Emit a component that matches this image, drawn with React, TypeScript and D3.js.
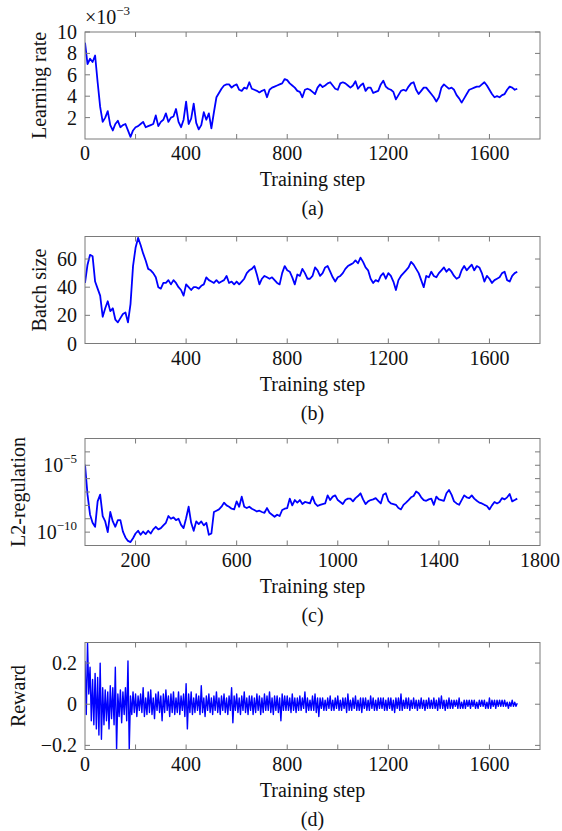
import React from 'react';
import * as d3 from 'd3';

// sampled training steps (every 10 steps for a-c, every 5 for reward)
const coarseSteps = d3.range(0, 1711, 10);
const rewardSteps = d3.range(0, 1711, 5);

// learning rate, in units of 1e-3
const learningRate = [
  9.0, 7.0, 7.5, 7.2, 7.8, 5.3, 3.0, 1.6, 2.0, 2.6,
  1.3, 0.8, 1.4, 1.7, 1.1, 1.3, 1.4, 0.8, 0.2, 0.8,
  1.1, 1.2, 1.4, 1.6, 1.1, 1.2, 1.3, 1.4, 2.2, 1.2,
  1.6, 1.8, 2.4, 1.6, 2.0, 2.1, 2.8, 1.6, 1.1, 1.8,
  3.5, 1.4, 1.9, 3.3, 1.5, 0.9, 1.3, 2.5, 1.8, 2.4,
  1.0, 2.5, 3.9, 4.3, 4.7, 5.0, 5.1, 5.1, 4.8, 5.0,
  5.1, 4.6, 4.5, 4.8, 4.7, 5.3, 4.7, 4.6, 4.5, 4.35,
  4.5, 4.6, 3.9, 4.6, 4.8, 4.9, 5.0, 5.1, 5.2, 5.6,
  5.5, 5.2, 5.0, 4.8, 4.5, 4.4, 3.9, 4.6, 4.7, 4.6,
  4.4, 4.2, 4.8, 5.1, 4.85, 5.0, 5.2, 5.3, 5.0, 4.7,
  4.6, 5.2, 5.3, 5.2, 5.0, 4.8, 5.0, 5.4, 4.7, 5.0,
  5.2, 4.5, 4.8, 4.8, 4.3, 4.4, 4.5, 5.1, 5.45, 4.9,
  4.7, 4.6, 4.4, 3.7, 4.1, 4.5, 4.6, 4.5, 4.9, 5.2,
  5.3, 4.6, 4.2, 4.5, 4.8, 4.8, 4.5, 4.2, 3.9, 3.5,
  3.9, 4.8, 5.1, 4.9, 4.7, 4.8, 4.6, 4.1, 3.8, 3.4,
  3.8, 4.2, 4.6, 4.7, 4.8, 4.9, 4.9, 5.1, 5.3, 5.0,
  4.6, 4.2, 3.9, 4.0, 3.9, 4.1, 4.2, 4.6, 4.9, 4.8,
  4.6, 4.7,
];

const batchSize = [
  43, 56, 63, 62, 44, 39, 34, 19, 25, 30,
  23, 25, 17, 15, 18, 21, 22, 15, 28, 55,
  68, 75, 70, 64, 59, 53, 52, 50, 47, 40,
  39, 43, 43, 45, 42, 45, 43, 40, 38, 34,
  42, 40, 38, 40, 40, 39, 41, 42, 47, 45,
  44, 43, 45, 43, 44, 45, 48, 43, 44, 42,
  44, 42, 44, 46, 50, 52, 53, 55, 49, 42,
  46, 48, 47, 46, 47, 45, 43, 42, 50, 55,
  52, 51, 47, 42, 49, 48, 53, 50, 46, 46,
  48, 54, 52, 48, 50, 54, 55, 51, 47, 44,
  47, 48, 50, 53, 55, 56, 57, 59, 57, 61,
  58, 54, 52, 46, 43, 45, 44, 48, 50, 46,
  50, 48, 44, 38, 45, 48, 50, 52, 54, 58,
  56, 53, 50, 45, 40, 48, 47, 51, 48, 47,
  50, 52, 54, 51, 53, 51, 48, 46, 47, 52,
  55, 52, 54, 56, 52, 55, 54, 50, 44, 48,
  46, 43, 45, 46, 47, 50, 51, 45, 44, 48,
  50, 51,
];

const l2Regulation = [
  1.1e-5, 6.3e-8, 2.0e-9, 5.0e-10, 2.5e-10, 2.0e-8, 6.3e-8, 1.6e-9, 6.3e-10, 1e-10,
  3.2e-9, 6.3e-10, 2.5e-10, 7.9e-10, 7.9e-10, 1.1e-10, 4.0e-11, 2.2e-11, 1.8e-11, 3.5e-11,
  7.9e-11, 1.26e-10, 6.3e-11, 1.1e-10, 7.1e-11, 1.26e-10, 7.9e-11, 1.6e-10, 2.5e-10, 1.6e-10,
  2.0e-10, 3.2e-10, 5.0e-10, 1.6e-9, 1e-9, 1.26e-9, 7.9e-10, 1e-9, 3.5e-10, 2.0e-10,
  1.1e-9, 7.9e-9, 5.0e-10, 1.26e-10, 6.3e-10, 4.0e-10, 6.3e-10, 3.2e-10, 5.0e-10, 6.3e-11,
  7.9e-11, 3.2e-9, 4.0e-9, 5.0e-9, 7.9e-9, 1.6e-8, 1e-8, 7.9e-9, 5.6e-9, 5.0e-9,
  2.0e-8, 7.9e-9, 4.5e-8, 7.9e-9, 6.3e-9, 7.9e-9, 5.6e-9, 4.5e-9, 3.5e-9, 4.0e-9,
  3.2e-9, 2.8e-9, 6.3e-9, 2.8e-9, 2.0e-9, 1.4e-9, 2.0e-9, 1.6e-9, 4.5e-9, 5.6e-9,
  6.3e-9, 3.2e-8, 1e-8, 2.5e-8, 1.6e-8, 2.5e-8, 1.26e-8, 1.8e-8, 1.6e-8, 1.4e-8,
  4.5e-8, 1.4e-8, 9e-9, 1.1e-8, 1.26e-8, 1.4e-8, 5.6e-8, 2.5e-8, 4.5e-8, 5.6e-8,
  2.5e-8, 1.8e-8, 1.26e-8, 2.5e-8, 3.2e-8, 3.2e-8, 2e-8, 3.5e-8, 5e-8, 8e-8,
  2.8e-8, 1.26e-8, 2e-8, 2.5e-8, 2.8e-8, 3.5e-8, 2.2e-8, 1.4e-8, 6.3e-8, 8e-8,
  2.2e-8, 1.4e-8, 1.26e-8, 1.1e-8, 6.3e-9, 5e-9, 1.1e-8, 1.6e-8, 2.5e-8, 4e-8,
  5e-8, 1.1e-7, 8e-8, 4e-8, 2.5e-8, 2.2e-8, 2.8e-8, 3.2e-8, 1.1e-8, 4.5e-8,
  2.8e-8, 2.5e-8, 2.2e-8, 8e-8, 1.4e-7, 6.3e-8, 2e-8, 1.4e-8, 1.1e-8, 2.5e-8,
  5.6e-8, 4e-8, 3.5e-8, 5.6e-8, 3.2e-8, 2.2e-8, 1.6e-8, 1.4e-8, 1.1e-8, 9e-9,
  5e-9, 1e-8, 1.8e-8, 1.4e-8, 1.8e-8, 3.5e-8, 2.8e-8, 4e-8, 7e-8, 2e-8,
  2.5e-8, 3.2e-8,
];

const reward = [
  0.21, -0.05, 0.3, 0.05, 0.18, -0.08, 0.12, -0.1, 0.15, -0.12, 0.13,
  -0.15, 0.2, -0.17, 0.08, -0.1, 0.07, -0.08, 0.06, -0.12, 0.09,
  -0.07, 0.08, -0.1, 0.18, -0.22, 0.05, -0.06, 0.07, -0.09, 0.06,
  -0.05, 0.08, -0.08, 0.21, -0.22, 0.04, -0.05, 0.06, -0.04, 0.05,
  -0.06, 0.04, -0.03, 0.05, -0.04, 0.08, -0.06, 0.03, -0.05, 0.06,
  -0.04, 0.07, -0.05, 0.03, -0.07, 0.05, -0.03, 0.06, -0.04, 0.04,
  -0.08, 0.05, -0.04, 0.07, -0.03, 0.04, -0.06, 0.05, -0.04, 0.06,
  -0.05, 0.03, -0.04, 0.06, -0.05, 0.04, -0.03, 0.05, -0.06, 0.1,
  -0.12, 0.05, -0.04, 0.06, -0.05, 0.03, -0.04, 0.05, -0.03, 0.04,
  -0.05, 0.09, -0.04, 0.03, -0.06, 0.04, -0.03, 0.05, -0.04, 0.03,
  -0.05, 0.04, -0.03, 0.06, -0.04, 0.03, -0.05, 0.04, -0.03, 0.05,
  -0.04, 0.03, -0.05, 0.04, -0.03, 0.08, -0.09, 0.04, -0.03, 0.05,
  -0.04, 0.03, -0.05, 0.04, -0.03, 0.06, -0.04, 0.03, -0.05, 0.04,
  -0.03, 0.04, -0.05, 0.03, -0.04, 0.05, -0.03, 0.04, -0.05, 0.03,
  -0.04, 0.05, -0.03, 0.04, -0.03, 0.06, -0.04, 0.03, -0.05, 0.04,
  -0.03, 0.04, -0.04, 0.03, -0.08, 0.05, -0.03, 0.04, -0.03, 0.04,
  -0.03, 0.03, -0.04, 0.05, -0.03, 0.03, -0.04, 0.03, -0.03, 0.04,
  -0.03, 0.03, -0.02, 0.06, -0.04, 0.03, -0.03, 0.02, -0.03, 0.04,
  -0.03, 0.05, -0.04, 0.03, -0.06, 0.03, -0.02, 0.03, -0.03, 0.02,
  -0.03, 0.03, -0.02, 0.04, -0.03, 0.02, -0.03, 0.03, -0.02, 0.04,
  -0.03, 0.02, -0.03, 0.03, -0.02, 0.03, -0.04, 0.05, -0.03, 0.02,
  -0.03, 0.03, -0.02, 0.04, -0.03, 0.02, -0.03, 0.03, -0.04, 0.03,
  -0.02, 0.03, -0.03, 0.02, -0.03, 0.04, -0.02, 0.03, -0.03, 0.02,
  -0.03, 0.03, -0.02, 0.03, -0.02, 0.03, -0.03, 0.02, -0.03, 0.03,
  -0.02, 0.03, -0.03, 0.02, -0.04, 0.03, -0.02, 0.03, -0.03, 0.05,
  -0.03, 0.02, -0.02, 0.03, -0.02, 0.03, -0.03, 0.02, -0.02, 0.03,
  -0.02, 0.02, -0.03, 0.02, -0.02, 0.03, -0.02, 0.02, -0.03, 0.02,
  -0.02, 0.03, -0.02, 0.02, -0.02, 0.03, -0.02, 0.02, -0.03, 0.03,
  -0.02, 0.04, -0.02, 0.02, -0.03, 0.02, -0.02, 0.03, -0.02, 0.02,
  -0.02, 0.02, -0.01, 0.02, -0.02, 0.03, -0.02, 0.01, -0.02, 0.02,
  -0.02, 0.02, -0.01, 0.02, -0.02, 0.02, -0.01, 0.02, -0.02, 0.01,
  -0.02, 0.02, -0.01, 0.02, -0.01, 0.02, -0.02, 0.01, -0.02, 0.03,
  -0.02, 0.02, -0.01, 0.02, -0.02, 0.02, -0.01, 0.02, -0.01, 0.02,
  -0.01, 0.02, -0.01, 0.01, -0.02, 0.01, -0.01, 0.02, -0.01, 0.01,
  -0.01, 0.005,
];

const xTicks = [200, 400, 600, 800, 1000, 1200, 1400, 1600];
const xLabelsA = [0, 400, 800, 1200, 1600];
const xLabelsB = [400, 800, 1200, 1600];
const xLabelsC = [200, 600, 1000, 1400, 1800];
const xLabelsD = [0, 400, 800, 1200, 1600];

const FONT = '"Liberation Serif", "Times New Roman", serif';
const AXIS = '#7a7a7a';
const BLUE = '#0000ff';
const LEFT = 85;
const PW = 455;
const PH = 107;

type YTick = { v: number; main: string; sup?: string };

type PanelProps = {
  id: string;
  top: number;
  steps: number[];
  values: number[];
  y: any;
  yTicks: YTick[];
  xLabels: number[];
  title: string;
  titleX: number;
  caption: string;
  strokeWidth: number;
};

const Panel = ({ id, top, steps, values, y, yTicks, xLabels, title, titleX, caption, strokeWidth }: PanelProps) => {
  const x = d3.scaleLinear().domain([0, 1800]).range([LEFT, LEFT + PW]);
  y.range([top + PH, top]);
  const bottom = top + PH;
  const right = LEFT + PW;
  const line = d3.line<number>()
    .x((_, i) => x(steps[i]))
    .y(d => y(d));
  const midY = top + PH / 2;

  return (
    <g>
      <clipPath id={`clip-${id}`}>
        <rect x={LEFT} y={top} width={PW} height={PH} />
      </clipPath>
      <path d={line(values) || ''} fill="none" stroke={BLUE} strokeWidth={strokeWidth}
        strokeLinejoin="round" clipPath={`url(#clip-${id})`} />
      <rect x={LEFT} y={top} width={PW} height={PH} fill="none" stroke={AXIS} strokeWidth={1} />
      {xTicks.map(t => (
        <g key={t} stroke={AXIS}>
          <line x1={x(t)} x2={x(t)} y1={bottom} y2={bottom - 5} />
          <line x1={x(t)} x2={x(t)} y1={top} y2={top + 5} />
        </g>
      ))}
      {yTicks.map(t => (
        <g key={t.main + (t.sup || '')} stroke={AXIS}>
          <line x1={LEFT} x2={LEFT + 5} y1={y(t.v)} y2={y(t.v)} />
          <line x1={right} x2={right - 5} y1={y(t.v)} y2={y(t.v)} />
        </g>
      ))}
      {xLabels.map(t => (
        <text key={t} x={x(t)} y={bottom + 21} textAnchor="middle" fontSize={20}>{t}</text>
      ))}
      {yTicks.map(t => (
        <text key={'l' + t.main + (t.sup || '')} x={LEFT - 8} y={y(t.v) + 7} textAnchor="end" fontSize={20}>
          {t.main}
          {t.sup ? <tspan dy={-9} fontSize={13}>{t.sup}</tspan> : null}
        </text>
      ))}
      <text transform={`translate(${titleX},${midY}) rotate(-90)`} textAnchor="middle" fontSize={20}>{title}</text>
      <text x={LEFT + PW / 2} y={bottom + 47} textAnchor="middle" fontSize={20}>Training step</text>
      <text x={LEFT + PW / 2} y={bottom + 76} textAnchor="middle" fontSize={20}>{caption}</text>
    </g>
  );
};

const App = () => {
  const yA = d3.scaleLinear().domain([0, 10]);
  const yB = d3.scaleLinear().domain([0, 76]);
  const yC = d3.scaleLog().domain([1e-11, 1e-3]);
  const yD = d3.scaleLinear().domain([-0.22, 0.3]);

  return (
    <svg width={562} height={831} style={{ position: 'absolute', left: 0, top: 0, background: '#fff' }}
      fontFamily={FONT} fill="#111">
      <Panel id="a" top={32} steps={coarseSteps} values={learningRate} y={yA}
        yTicks={[2, 4, 6, 8, 10].map(v => ({ v, main: String(v) }))}
        xLabels={xLabelsA} title="Learning rate" titleX={46} caption="(a)" strokeWidth={1.8} />
      <text x={85} y={24} fontSize={20} fontFamily={FONT} fill="#111">
        ×10<tspan dy={-9} fontSize={13}>−3</tspan>
      </text>
      <Panel id="b" top={236.5} steps={coarseSteps} values={batchSize} y={yB}
        yTicks={[0, 20, 40, 60].map(v => ({ v, main: String(v) }))}
        xLabels={xLabelsB} title="Batch size" titleX={46} caption="(b)" strokeWidth={1.8} />
      <Panel id="c" top={438.5} steps={coarseSteps} values={l2Regulation} y={yC}
        yTicks={[
          { v: 1e-10, main: '10', sup: '−10' },
          { v: 1e-9, main: '', sup: '' },
          { v: 1e-8, main: ' ', sup: ' ' },
          { v: 1e-7, main: '  ', sup: '  ' },
          { v: 1e-6, main: '   ', sup: '   ' },
          { v: 1e-5, main: '10', sup: '−5' },
          { v: 1e-4, main: '    ', sup: '    ' },
        ]}
        xLabels={xLabelsC} title="L2-regulation" titleX={25} caption="(c)" strokeWidth={1.8} />
      <Panel id="d" top={642.5} steps={rewardSteps} values={reward} y={yD}
        yTicks={[
          { v: -0.2, main: '−0.2' },
          { v: 0, main: '0' },
          { v: 0.2, main: '0.2' },
        ]}
        xLabels={xLabelsD} title="Reward" titleX={25} caption="(d)" strokeWidth={1.4} />
    </svg>
  );
};

export default App;
